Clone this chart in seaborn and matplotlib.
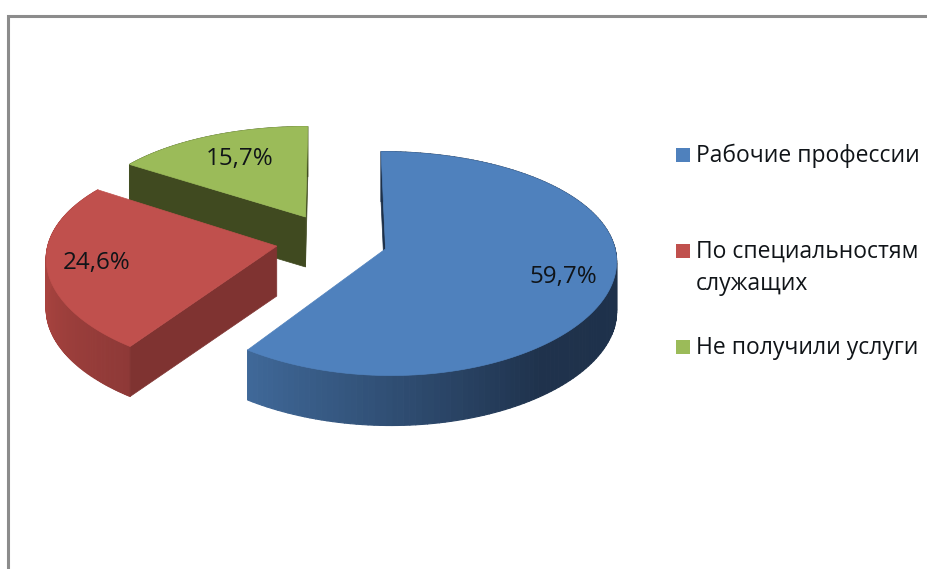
import numpy as np
import seaborn as sns
import matplotlib
matplotlib.use("Agg")
import matplotlib.pyplot as plt
from matplotlib.collections import PolyCollection
from matplotlib.patches import Polygon

# data
categories = ["Рабочие профессии", "По специальностям\nслужащих", "Не получили услуги"]
values = [59.7, 24.6, 15.7]
value_labels = ["59,7%", "24,6%", "15,7%"]

top_colors = ["#4F81BD", "#C0504D", "#9BBB59"]
cut_colors = ["#1D3049", "#7F3331", "#404A20"]
side_stops = [
    ["#1D3049", "#1D3049", "#1F324C", "#3F6898"],
    ["#8E3937", "#A8433F", "#A8433F"],
    ["#5A6E33", "#5A6E33"],
]
# which cut faces can be seen: 0 = start of the slice, -1 = end of it
visible_cuts = [[0], [0], [0, -1]]

# where the text goes, in pixels
label_pos = [(563, 277), (97, 263), (240, 159)]
legend_y = [155, 251, 347]

# projection of the tilted pie
CX, CY = 333, 241
RX, RY = 228, 108
PERSP_X = 0.093
PERSP_Y = 0.13
DEPTH = 50
EXPLODE = [0.24, 0.25, 0.26]

sns.set_theme(style="white")
plt.rcParams["font.family"] = ["Open Sans", "DejaVu Sans"]


def project(u, v, z=0.0):
    x = CX + RX * u / (1 + PERSP_X * v)
    y = CY - RY * v / (1 + PERSP_Y * v) + DEPTH * z
    return x, y


fig = plt.figure(figsize=(9.28, 5.69), dpi=100)
ax = fig.add_axes([0, 0, 1, 1])
ax.set_xlim(0, 928)
ax.set_ylim(569, 0)
ax.axis("off")

# window frame
ax.plot([932, 8.5, 8.5], [15.5, 15.5, 573], color="#8C8C8C", lw=2.2, solid_joinstyle="miter")

starts = np.cumsum([0] + values[:-1]) / sum(values) * 2 * np.pi
ends = np.cumsum(values) / sum(values) * 2 * np.pi

# back slices first
for i in [2, 1, 0]:
    mid = (starts[i] + ends[i]) / 2
    ou, ov = EXPLODE[i] * np.sin(mid), EXPLODE[i] * np.cos(mid)
    th = np.linspace(starts[i], ends[i], 160)
    u = ou + np.sin(th)
    v = ov + np.cos(th)
    xt, yt = project(u, v)
    xb, yb = project(u, v, 1)
    ax_, ay_ = project(ou, ov)
    bx_, by_ = project(ou, ov, 1)

    # outer wall, shaded along the arc
    shades = sns.blend_palette(side_stops[i], len(th) - 1)
    quads = [[(xt[j], yt[j]), (xt[j + 1], yt[j + 1]), (xb[j + 1], yb[j + 1]), (xb[j], yb[j])]
             for j in range(len(th) - 1)]
    ax.add_collection(PolyCollection(quads, facecolors=shades, edgecolors=shades, linewidths=0.8))

    # cut faces
    for k in visible_cuts[i]:
        ax.add_patch(Polygon([(ax_, ay_), (xt[k], yt[k]), (xb[k], yb[k]), (bx_, by_)],
                             fc=cut_colors[i], ec=cut_colors[i], lw=0.5))

    # top surface
    ax.add_patch(Polygon(list(zip(xt, yt)) + [(ax_, ay_)], fc=top_colors[i], ec=top_colors[i], lw=0.5))

for (lx, ly), txt in zip(label_pos, value_labels):
    ax.text(lx, ly, txt, ha="center", va="center", fontsize=17.4, color="#101418")

# legend
for name, col, ly in zip(categories, top_colors, legend_y):
    ax.scatter([683], [ly], marker="s", s=115, color=col, linewidths=0)
    lines = name.split("\n")
    ax.text(696, ly + 1, lines[0], ha="left", va="center", fontsize=16.5, color="#101418")
    if len(lines) > 1:
        ax.text(696, ly + 33, lines[1], ha="left", va="center", fontsize=16.5, color="#101418")

plt.savefig("out.png", dpi=100)
